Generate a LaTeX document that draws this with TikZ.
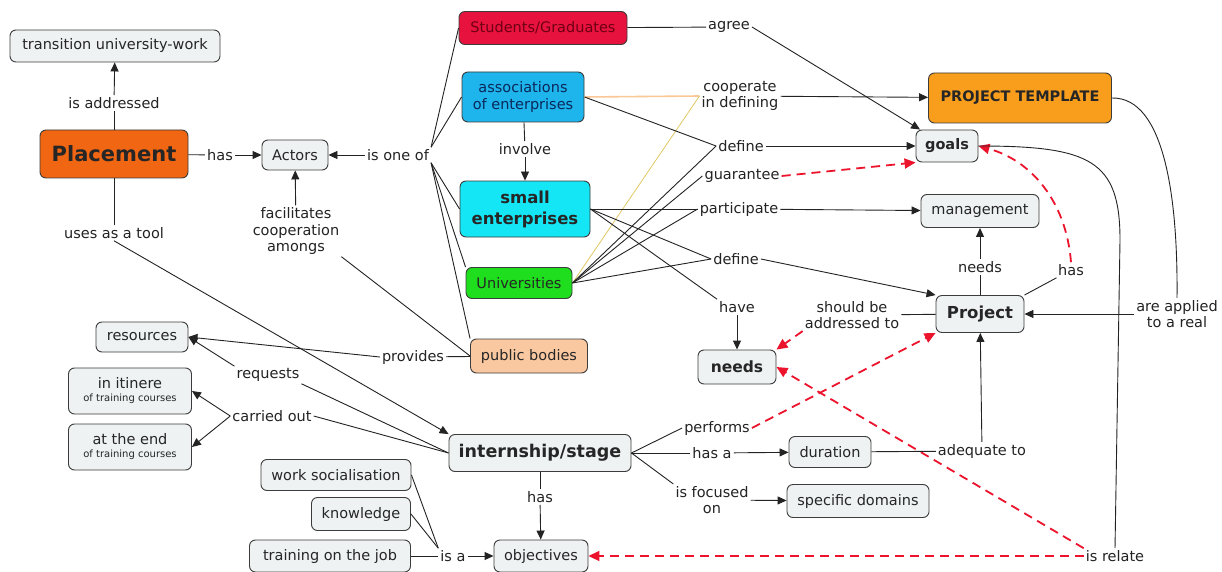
\documentclass[tikz,border=0pt]{standalone}
\usepackage{fontspec}
\setmainfont{DejaVu Sans}
\usetikzlibrary{arrows.meta}
\definecolor{bordergray}{RGB}{60,60,60}
\definecolor{boxgray}{RGB}{238,242,242}
\definecolor{linkgray}{RGB}{35,35,35}
\definecolor{cplacement}{RGB}{240,102,18}
\definecolor{cstudents}{RGB}{232,18,62}
\definecolor{tstudents}{RGB}{110,0,20}
\definecolor{cassoc}{RGB}{30,180,236}
\definecolor{tassoc}{RGB}{10,40,90}
\definecolor{csmall}{RGB}{20,230,245}
\definecolor{cuniv}{RGB}{30,222,30}
\definecolor{cpublic}{RGB}{250,200,160}
\definecolor{ctemplate}{RGB}{248,158,28}
\definecolor{dashred}{RGB}{236,20,45}
\definecolor{lorange}{RGB}{250,200,150}
\definecolor{lyellow}{RGB}{225,200,100}
\newcommand\Fs[2]{\fontsize{#1}{#2}\selectfont}
\begin{document}
\begin{tikzpicture}[x=1pt,y=-1pt,
  concept/.style={draw=bordergray, fill=boxgray, rounded corners=6pt, line width=0.9pt,
    align=center, inner sep=1pt, text=black!85, font=\Fs{14.5}{17}},
  linkp/.style={align=center, inner sep=2pt, text=linkgray, font=\Fs{14.5}{16.5}},
  conn/.style={draw=linkgray, line width=0.9pt},
  arr/.style={conn, -{Triangle[length=9pt,width=8pt]}},
  rarr/.style={draw=dashred, line width=1.8pt, dash pattern=on 9pt off 6pt, -{Triangle[length=11pt,width=10pt]}}
]
\useasboundingbox[fill=white] (0,0) rectangle (1222,572);

% concepts
\node[concept, minimum width=210pt, minimum height=32pt] (trans) at (115,46) {transition university-work};
\node[concept, fill=cplacement, minimum width=148pt, minimum height=48pt, font=\bfseries\Fs{21}{25}] (placement) at (114,154) {Placement};
\node[concept, minimum width=66pt, minimum height=30pt] (actors) at (295,155) {Actors};
\node[concept, fill=cstudents, text=tstudents, minimum width=168pt, minimum height=33pt] (students) at (543,28) {Students/Graduates};
\node[concept, fill=cassoc, text=tassoc, minimum width=122pt, minimum height=50pt] (assoc) at (523,97) {associations\\of enterprises};
\node[concept, fill=csmall, minimum width=130pt, minimum height=56pt, font=\bfseries\Fs{16.5}{21}] (small) at (525,209) {small\\enterprises};
\node[concept, fill=cuniv, minimum width=106pt, minimum height=31pt] (univ) at (519,283) {Universities};
\node[concept, fill=cpublic, minimum width=117pt, minimum height=34pt] (public) at (529,356) {public bodies};
\node[concept, fill=ctemplate, minimum width=183pt, minimum height=50pt, font=\bfseries\Fs{14.5}{17}] (template) at (1020,98) {PROJECT TEMPLATE};
\node[concept, minimum width=62pt, minimum height=32pt, font=\bfseries\Fs{14.5}{17}] (goals) at (947,146) {goals};
\node[concept, minimum width=118pt, minimum height=33pt] (management) at (980,211) {management};
\node[concept, minimum width=88pt, minimum height=37pt, font=\bfseries\Fs{16.5}{19}] (project) at (980,314) {Project};
\node[concept, minimum width=78pt, minimum height=34pt, font=\bfseries\Fs{15.5}{18}] (needs) at (737,367) {needs};
\node[concept, minimum width=92pt, minimum height=30pt] (resources) at (142,337) {resources};
\node[concept, minimum width=123pt, minimum height=46pt] (itinere) at (130,391) {in itinere\\[-4pt]{\Fs{10}{12}of training courses}};
\node[concept, minimum width=123pt, minimum height=46pt] (atend) at (130,447) {at the end\\[-4pt]{\Fs{10}{12}of training courses}};
\node[concept, minimum width=182pt, minimum height=37pt, font=\bfseries\Fs{17.5}{20}] (internship) at (540,453) {internship/stage};
\node[concept, minimum width=82pt, minimum height=31pt] (duration) at (830,452) {duration};
\node[concept, minimum width=142pt, minimum height=33pt] (specific) at (858,501) {specific domains};
\node[concept, minimum width=150pt, minimum height=31pt] (worksoc) at (336,475) {work socialisation};
\node[concept, minimum width=99pt, minimum height=33pt] (knowledge) at (361,514) {knowledge};
\node[concept, minimum width=161pt, minimum height=32pt] (training) at (330,556) {training on the job};
\node[concept, minimum width=94pt, minimum height=32pt] (objectives) at (541,556) {objectives};

% linking phrases
\node[linkp] (isaddr) at (114,103) {is addressed};
\node[linkp] (hasA) at (220,155) {has};
\node[linkp] (isoneof) at (398,155) {is one of};
\node[linkp] (involve) at (525,149) {involve};
\node[linkp] (agree) at (729,27) {agree};
\node[linkp] (coop) at (740,96) {cooperate\\in defining};
\node[linkp] (define1) at (741,146) {define};
\node[linkp] (guarantee) at (742,176) {guarantee};
\node[linkp] (participate) at (739,209) {participate};
\node[linkp] (define2) at (736,259) {define};
\node[linkp] (have) at (737,307) {have};
\node[linkp] (shouldbe) at (852,315) {should be\\addressed to};
\node[linkp] (needsL) at (980,267) {needs};
\node[linkp] (hasP) at (1071,270) {has};
\node[linkp] (applied) at (1177,314) {are applied\\to a real};
\node[linkp] (usestool) at (114,233) {uses as a tool};
\node[linkp] (facil) at (296,231) {facilitates\\cooperation\\amongs};
\node[linkp] (provides) at (413,357) {provides};
\node[linkp] (requests) at (268,375) {requests};
\node[linkp] (carried) at (272,416) {carried out};
\node[linkp] (performs) at (717,428) {performs};
\node[linkp] (hasa) at (712,453) {has a};
\node[linkp] (focused) at (712,500) {is focused\\on};
\node[linkp] (adequate) at (982,451) {adequate to};
\node[linkp] (hasO) at (540,497) {has};
\node[linkp] (isa) at (453,556) {is a};
\node[linkp] (isrelate) at (1115,556) {is relate};

% connectors
\draw[conn] (placement) -- (isaddr);
\draw[arr] (isaddr) -- (trans);
\draw[conn] (placement) -- (hasA);
\draw[arr] (hasA) -- (actors);
\draw[arr] (isoneof) -- (actors);
\draw[conn] (isoneof.north east) -- (students.west);
\draw[conn] (isoneof.north east) -- (assoc.west);
\draw[conn] (isoneof.south east) -- (small.west);
\draw[conn] (isoneof.south east) -- (univ.north west);
\draw[conn] (isoneof.south east) -- (public.north west);
\draw[arr] (facil) -- (actors);
\draw[conn] (public.west) -- (facil.south east);
\draw[conn] (assoc) -- (involve);
\draw[arr] (involve) -- (small);
\draw[conn] (students) -- (agree);
\draw[arr] (agree.east) -- (goals);
\draw[draw=lorange, line width=1.6pt] (assoc.east) -- (coop.west);
\draw[draw=lyellow, line width=0.8pt] (univ.east) -- (coop.west);
\draw[arr] (coop) -- (template);
\draw[conn] (assoc.east) -- (define1.west);
\draw[arr] (define1) -- (goals);
\draw[conn] (univ.east) -- (define1.west);
\draw[conn] (univ.east) -- (guarantee.west);
\draw[conn] (univ.east) -- (participate.west);
\draw[conn] (univ.east) -- (define2.west);
\draw[conn] (small.east) -- (participate.west);
\draw[conn] (small.east) -- (define2.west);
\draw[conn] (small.east) -- (have.north west);
\draw[rarr] (guarantee.east) -- (goals.south west);
\draw[arr] (participate) -- (management);
\draw[arr] (define2.east) -- (project.north west);
\draw[arr] (have) -- (needs);
\draw[conn] (project) -- (shouldbe);
\draw[rarr] (shouldbe.south west) -- (needs.north east);
\draw[conn] (project) -- (needsL);
\draw[arr] (needsL) -- (management);
\draw[conn] (project.north east) -- (hasP);
\draw[rarr] (hasP.north) .. controls (1066,200) and (1030,160) .. (goals.east);
\draw[conn] (template.east) .. controls (1165,97) and (1178,200) .. (applied.north);
\draw[arr] (applied) -- (project);
\draw[conn] (goals.east) .. controls (1090,146) and (1120,160) .. (1120,240) -- (isrelate.north);
\draw[rarr] (isrelate) -- (objectives);
\draw[rarr] (isrelate.north west) -- (needs.east);
\draw[conn] (internship.east) -- (performs.west);
\draw[rarr] (performs.east) -- (project.south west);
\draw[conn] (internship) -- (hasa);
\draw[arr] (hasa) -- (duration);
\draw[conn] (internship.east) -- (focused.north west);
\draw[arr] (focused) -- (specific);
\draw[conn] (duration) -- (adequate);
\draw[arr] (adequate) -- (project);
\draw[conn] (internship) -- (hasO);
\draw[arr] (hasO) -- (objectives);
\draw[conn] (worksoc.east) -- (isa.north west);
\draw[conn] (knowledge.east) -- (isa.north west);
\draw[conn] (training) -- (isa);
\draw[arr] (isa) -- (objectives);
\draw[conn] (placement) -- (usestool);
\draw[arr] (usestool.south) -- (internship.north west);
\draw[conn] (public) -- (provides);
\draw[arr] (provides.west) -- (resources.east);
\draw[conn] (internship.west) -- (requests.south east);
\draw[arr] (requests.north west) -- (resources.east);
\draw[conn] (internship.west) -- (carried.east);
\draw[arr] (carried.west) -- (itinere.east);
\draw[arr] (carried.west) -- (atend.east);
\end{tikzpicture}
\end{document}
